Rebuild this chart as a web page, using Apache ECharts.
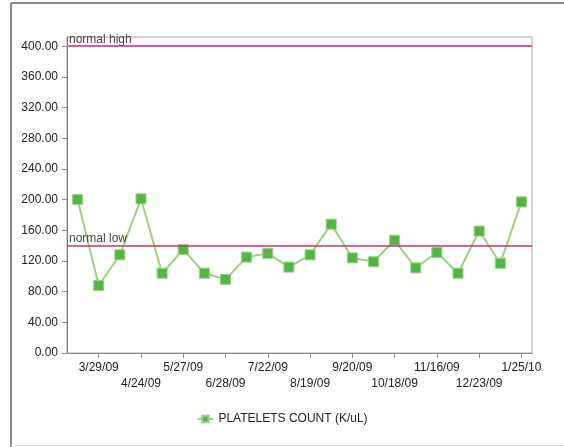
<!DOCTYPE html>
<html>
<head>
<meta charset="utf-8">
<script src="https://cdn.jsdelivr.net/npm/echarts@6/dist/echarts.min.js"></script>
<style>
html,body{margin:0;padding:0;background:#fff;}
#c{width:564px;height:447px;}
</style>
</head>
<body>
<div id="c"></div>
<script>
// Point index -> date label (only labelled points are known)
const dateLabels = [null,'3/29/09',null,'4/24/09',null,'5/27/09',null,'6/28/09',null,'7/22/09',null,'8/19/09',null,'9/20/09',null,'10/18/09',null,'11/16/09',null,'12/23/09',null,'1/25/10'];
const categories = dateLabels.map((d, i) => String(i));
const plateletValues = [200, 88, 128, 201, 104, 135, 104, 96, 125, 130, 112, 128, 168, 124, 119, 147, 111, 131, 104, 159, 117, 197];
const yTicks = [0, 40, 80, 120, 160, 200, 240, 280, 320, 360, 400];
const normalLow = 140;
const normalHigh = 400;
const seriesName = 'PLATELETS COUNT (K/uL)';

const chart = echarts.init(document.getElementById('c'), null, {renderer: 'canvas'});
const font = 'Liberation Sans, Arial, sans-serif';

// row 0: labels 1,5,9,...; row 1: labels 3,7,11,...
const rowOf = (i) => ((i - 1) / 2) % 2;

function refLine(name, value, color, width) {
  return {
    name: name,
    type: 'line',
    data: [],
    silent: true,
    markLine: {
      silent: true,
      symbol: 'none',
      animation: false,
      lineStyle: {color: color, width: width, type: 'solid'},
      label: {show: true, position: 'insideStartTop', formatter: name, color: '#444', fontSize: 12, fontFamily: font, distance: [2, 1]},
      data: [{yAxis: value}]
    },
    z: 2
  };
}

// axis carrying line + ticks only
const tickAxis = {
  type: 'category',
  data: categories,
  boundaryGap: true,
  position: 'bottom',
  axisLine: {show: true, lineStyle: {color: '#8a8a8a'}},
  axisTick: {show: true, alignWithLabel: true, length: 5, lineStyle: {color: '#8a8a8a'},
    interval: (i) => dateLabels[i] !== null},
  axisLabel: {show: true, color: 'rgba(0,0,0,0)', fontSize: 1,
    interval: (i) => dateLabels[i] !== null, formatter: () => ' '},
  splitLine: {show: false}
};

function labelAxis(row) {
  return {
    type: 'category',
    data: categories,
    boundaryGap: true,
    position: 'bottom',
    axisLine: {show: false},
    axisTick: {show: false},
    axisLabel: {
      interval: (i) => dateLabels[i] !== null && rowOf(i) === row,
      showMinLabel: true,
      showMaxLabel: true,
      fontSize: 12, color: '#222', fontFamily: font, margin: row === 0 ? 9 : 25,
      formatter: (v) => dateLabels[Number(v)] || ''
    },
    splitLine: {show: false}
  };
}

chart.setOption({
  animation: false,
  backgroundColor: '#fff',
  textStyle: {fontFamily: font},
  graphic: [
    {type: 'line', shape: {x1: 11, y1: 3, x2: 564, y2: 3}, style: {stroke: '#8a8a8a', lineWidth: 2}},
    {type: 'line', shape: {x1: 11, y1: 3, x2: 11, y2: 447}, style: {stroke: '#8a8a8a', lineWidth: 2}},
    {type: 'line', shape: {x1: 11, y1: 445.5, x2: 564, y2: 445.5}, style: {stroke: '#dcdcdc', lineWidth: 1}}
  ],
  grid: {left: 67, right: 32, top: 37, bottom: 94, show: true, borderColor: '#a8a8a8', borderWidth: 1, backgroundColor: 'transparent'},
  legend: {
    bottom: 17, left: 'center',
    itemWidth: 16, itemHeight: 8, itemGap: 3,
    textStyle: {fontSize: 12, color: '#222', fontFamily: font},
    data: [seriesName]
  },
  xAxis: [tickAxis, labelAxis(0), labelAxis(1)],
  yAxis: {
    type: 'value',
    min: 0, max: 412, interval: 40,
    axisLine: {show: true, lineStyle: {color: '#777'}},
    axisTick: {show: true, length: 5, lineStyle: {color: '#8a8a8a'}, customValues: yTicks},
    axisLabel: {fontSize: 12, color: '#222', fontFamily: font, margin: 9, customValues: yTicks, formatter: (v) => v.toFixed(2)},
    splitLine: {show: false}
  },
  series: [
    refLine('normal high', normalHigh, '#e5559a', 2),
    refLine('normal low', normalLow, '#d0306c', 1.5),
    {
      name: seriesName,
      type: 'line',
      data: plateletValues,
      symbol: 'rect',
      symbolSize: 10,
      lineStyle: {color: '#9ad27e', width: 2},
      itemStyle: {color: '#55b544', borderColor: '#92d47e', borderWidth: 1},
      z: 3
    }
  ]
});
</script>
</body>
</html>
